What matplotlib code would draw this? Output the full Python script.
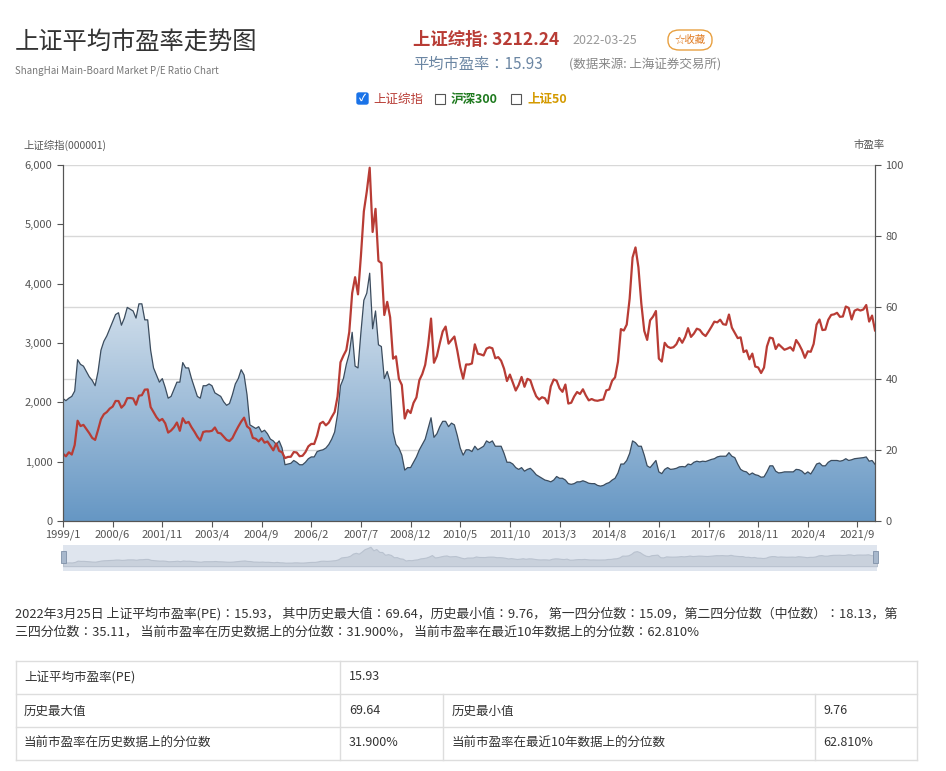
import numpy as np
import matplotlib.pyplot as plt
from matplotlib.patches import Rectangle, FancyBboxPatch

plt.rcParams["font.family"] = ["Noto Sans CJK JP", "DejaVu Sans"]

# monthly closes of the SSE composite index, 1999/1 .. 2022/3
index_close = [
    1134, 1090, 1158, 1120, 1280, 1690, 1600, 1620, 1550, 1480, 1400, 1367,
    1535, 1715, 1800, 1836, 1894, 1928, 2023, 2022, 1910, 1961, 2070, 2073,
    2065, 1960, 2112, 2120, 2214, 2218, 1920, 1834, 1750, 1690, 1720, 1646,
    1490, 1525, 1580, 1660, 1520, 1732, 1650, 1670, 1580, 1505, 1420, 1357,
    1500, 1512, 1510, 1520, 1576, 1487, 1477, 1422, 1367, 1348, 1397, 1497,
    1590, 1675, 1742, 1595, 1555, 1400, 1386, 1342, 1396, 1320, 1340, 1266,
    1191, 1306, 1181, 1159, 1060, 1080, 1083, 1162, 1155, 1092, 1099, 1161,
    1258, 1299, 1298, 1440, 1641, 1672, 1612, 1658, 1752, 1837, 2099, 2675,
    2786, 2881, 3183, 3841, 4109, 3820, 4471, 5218, 5552, 5954, 4871, 5261,
    4383, 4348, 3472, 3693, 3433, 2736, 2775, 2397, 2293, 1728, 1871, 1820,
    1990, 2082, 2373, 2477, 2632, 2959, 3412, 2667, 2779, 2996, 3195, 3277,
    2989, 3051, 3109, 2870, 2592, 2398, 2638, 2638, 2655, 2978, 2820, 2808,
    2790, 2905, 2928, 2911, 2743, 2762, 2701, 2567, 2359, 2468, 2333, 2199,
    2292, 2428, 2262, 2396, 2372, 2225, 2103, 2047, 2086, 2068, 1980, 2269,
    2385, 2365, 2236, 2177, 2300, 1979, 1993, 2098, 2174, 2141, 2220, 2116,
    2033, 2056, 2033, 2026, 2039, 2048, 2201, 2217, 2363, 2420, 2683, 3234,
    3210, 3310, 3748, 4441, 4611, 4277, 3663, 3205, 3052, 3382, 3445, 3539,
    2737, 2687, 3003, 2938, 2917, 2929, 2979, 3085, 3004, 3100, 3250, 3103,
    3159, 3241, 3222, 3155, 3117, 3192, 3273, 3360, 3348, 3393, 3317, 3307,
    3480, 3259, 3169, 3082, 3095, 2847, 2876, 2725, 2821, 2603, 2588, 2494,
    2585, 2941, 3091, 3078, 2899, 2979, 2933, 2886, 2905, 2929, 2871, 3050,
    2977, 2880, 2750, 2860, 2852, 2985, 3310, 3396, 3218, 3225, 3392, 3473,
    3483, 3509, 3441, 3447, 3615, 3591, 3397, 3544, 3568, 3547, 3564, 3640,
    3361, 3462, 3212,
]

# average P/E ratio of the Shanghai main board
pe_ratio = [
    34.4, 33.8, 34.5, 35.0, 36.5, 45.3, 44.0, 43.5, 42.0, 40.5, 39.5, 38.0,
    42.0, 48.0, 50.5, 52.0, 54.0, 56.0, 58.0, 58.5, 55.0, 57.0, 60.0, 59.5,
    59.0, 57.0, 61.0, 61.0, 56.5, 56.5, 48.0, 43.0, 41.0, 39.0, 40.0, 37.5,
    34.5, 35.0, 37.0, 39.0, 39.0, 44.5, 43.0, 43.0, 40.0, 37.5, 35.0, 34.5,
    38.0, 38.0, 38.5, 38.0, 36.0, 35.5, 35.0, 33.5, 32.5, 33.0, 35.5, 38.5,
    40.0, 42.5, 41.0, 35.5, 27.0, 26.5, 26.0, 26.5, 25.0, 25.5, 24.5, 23.0,
    22.5, 21.5, 22.5, 20.5, 15.8, 16.0, 16.2, 17.0, 16.5, 15.8, 15.8, 16.5,
    17.5, 18.0, 18.0, 19.5, 19.8, 20.0, 20.5, 21.5, 23.0, 25.0, 30.0, 38.0,
    40.0, 44.0, 47.0, 53.0, 43.5, 43.0, 53.0, 62.0, 64.0, 69.6, 54.0, 59.0,
    49.5, 49.0, 40.0, 42.0, 39.0, 25.0, 21.5, 20.5, 18.5, 14.3, 15.0, 15.0,
    16.5, 18.0, 20.0, 21.5, 23.0, 26.0, 29.0, 23.5, 24.5, 26.5, 28.0, 28.0,
    26.5, 27.5, 27.0, 24.0, 20.5, 18.5, 20.0, 20.0, 19.5, 21.0, 20.0, 20.5,
    21.0, 22.5, 22.0, 22.5, 21.0, 21.0, 21.0, 19.0, 16.5, 16.5, 16.0, 15.0,
    14.5, 15.0, 14.0, 14.5, 14.8, 14.0, 13.0, 12.5, 12.0, 11.5, 11.3, 11.0,
    11.5, 12.5, 12.0, 12.0, 11.5, 10.5, 10.3, 10.5, 11.0, 11.0, 11.3, 11.0,
    10.6, 10.5, 10.5, 10.0, 9.8, 10.0, 10.5, 10.8, 11.5, 12.0, 13.5, 16.0,
    16.0, 17.0, 19.0, 22.5, 22.0, 21.0, 21.0, 18.5, 15.5, 15.0, 16.0, 17.0,
    13.8, 13.3, 14.5, 15.0, 14.5, 14.6, 14.8, 15.2, 15.3, 15.2, 16.0, 15.8,
    16.5, 16.8, 16.6, 16.8, 16.7, 17.0, 17.3, 17.5, 18.0, 18.2, 18.2, 18.2,
    19.2, 18.2, 17.8, 16.0, 14.5, 14.0, 13.8, 13.0, 13.5, 13.0, 12.8, 12.3,
    12.4, 13.8, 15.5, 15.5, 14.0, 13.5, 13.6, 13.8, 13.8, 13.8, 13.8, 14.5,
    14.4, 14.0, 13.2, 13.8, 13.2, 14.5, 16.0, 16.3, 15.5, 15.5, 16.5, 17.0,
    17.0, 17.0, 16.8, 17.0, 17.5, 17.0, 17.2, 17.5, 17.6, 17.7, 17.8, 18.0,
    16.8, 17.0, 15.93,
]

months = [f"{1999 + i // 12}/{i % 12 + 1}" for i in range(len(index_close))]
tick_step = 17

W, H = 946, 771
fig = plt.figure(figsize=(W / 100, H / 100), dpi=100)


def ftxt(x, y, s, **kw):
    kw.setdefault("va", "center")
    fig.text(x / W, 1 - y / H, s, **kw)


def fline(x0, x1, y0, y1, c="#dddddd"):
    fig.add_artist(plt.Line2D([x0 / W, x1 / W], [1 - y0 / H, 1 - y1 / H], color=c, lw=1))


# header
ftxt(15, 42, "上证平均市盈率走势图", fontsize=17.5, color="#333333")
ftxt(15, 71, "ShangHai Main-Board Market P/E Ratio Chart", fontsize=7, color="#777777")
ftxt(413, 40, "上证综指: 3212.24", fontsize=12.5, color="#b83c35", fontweight="bold")
ftxt(572, 40, "2022-03-25", fontsize=9, color="#999999")
fig.add_artist(FancyBboxPatch((668 / W, 1 - 50 / H), 44 / W, 20 / H,
                              boxstyle="round,pad=0,rounding_size=0.012",
                              transform=fig.transFigure, fc="white", ec="#e8a040", lw=1))
ftxt(690, 40, "☆收藏", fontsize=7.5, color="#e07a20", ha="center")
ftxt(413, 64, "平均市盈率：15.93", fontsize=11, color="#6b86a3")
ftxt(569, 65, "(数据来源: 上海证券交易所)", fontsize=9, color="#888888")

# series toggles
fig.add_artist(FancyBboxPatch((357 / W, 1 - 104 / H), 11 / W, 11 / H,
                              boxstyle="round,pad=0,rounding_size=0.002",
                              transform=fig.transFigure, fc="#1a73e8", ec="#1a73e8"))
ftxt(362.5, 98, "✓", fontsize=7, color="white", ha="center", fontweight="bold")
ftxt(373, 99, "上证综指", fontsize=9, color="#b83c35")
for bx in (435, 511):
    fig.add_artist(Rectangle((bx / W, 1 - 104 / H), 10 / W, 10 / H,
                             transform=fig.transFigure, fc="white", ec="#555555", lw=0.8))
ftxt(451, 99, "沪深300", fontsize=9, color="#1f7a1f", fontweight="bold")
ftxt(527, 99, "上证50", fontsize=9, color="#d49a00", fontweight="bold")

# main chart
x = np.arange(len(index_close))
ax = fig.add_axes([63 / W, 1 - 521 / H, 812 / W, 356 / H])
ax2 = ax.twinx()
ax.set_zorder(ax2.get_zorder() + 1)
ax.patch.set_visible(False)

ax2.set_axisbelow(True)
ax2.set_ylim(0, 100)
ax2.set_yticks([0, 20, 40, 60, 80, 100])
ax2.grid(axis="y", color="#d8d8d8", lw=1)
poly = ax2.fill_between(x, pe_ratio, 0, color="none")
grad = np.linspace(1, 0, 256).reshape(-1, 1)
top_c = np.array([0xe4, 0xeb, 0xf2]) / 255
bot_c = np.array([0x66, 0x97, 0xc4]) / 255
img = top_c * grad[..., None] + bot_c * (1 - grad[..., None])
im = ax2.imshow(img, extent=[0, len(x) - 1, 0, 72], aspect="auto", origin="upper", zorder=1)
im.set_clip_path(poly.get_paths()[0], transform=ax2.transData)
ax2.plot(x, pe_ratio, color="#3b4c5e", lw=0.9, zorder=2)

ax.plot(x, index_close, color="#b83c35", lw=1.6)
ax.set_ylim(0, 6000)
ax.set_yticks(range(0, 6001, 1000))
ax.yaxis.set_major_formatter(plt.FuncFormatter(lambda v, p: f"{int(v):,}"))
ax.set_xlim(0, len(x) - 1)
ax.set_xticks(x[::tick_step])
ax.set_xticklabels(months[::tick_step])

for a in (ax, ax2):
    a.tick_params(labelsize=8, colors="#555555", length=4, width=0.8)
    a.spines["top"].set_visible(False)
    for s in ("left", "right", "bottom"):
        a.spines[s].set_color("#555555")
ax.tick_params(axis="x", labelsize=8, pad=2)
ftxt(23, 145, "上证综指(000001)", fontsize=7.5, color="#555555")
ftxt(853, 145, "市盈率", fontsize=7.5, color="#555555")

# zoom slider
sl = fig.add_axes([63 / W, 1 - 571 / H, 814 / W, 26 / H])
sl.set_facecolor("#dfe5ee")
sl.fill_between(x, index_close, 0, color="#c9d1dc", lw=0.8, edgecolor="#b9c2cf")
sl.set_xlim(0, len(x) - 1)
sl.set_ylim(-1500, 6500)
sl.set_xticks([])
sl.set_yticks([])
for s in sl.spines.values():
    s.set_visible(False)
for hx in (61, 873):
    fig.add_artist(Rectangle((hx / W, 1 - 563 / H), 5 / W, 12 / H,
                             transform=fig.transFigure, fc="#a8b8cc", ec="#8091a8", lw=0.6))

# summary text
ftxt(15, 614, "2022年3月25日 上证平均市盈率(PE)：15.93， 其中历史最大值：69.64，历史最小值：9.76， 第一四分位数：15.09，第二四分位数（中位数）：18.13，第",
     fontsize=9.3, color="#333333")
ftxt(15, 632, "三四分位数：35.11， 当前市盈率在历史数据上的分位数：31.900%， 当前市盈率在最近10年数据上的分位数：62.810%",
     fontsize=9.3, color="#333333")

# table
rows_y = [661, 694, 727, 760]
for ry in rows_y:
    fline(16, 917, ry, ry)
fline(16, 16, 661, 760)
fline(917, 917, 661, 760)
fline(340, 340, 661, 760)
fline(443, 443, 694, 760)
fline(815, 815, 694, 760)
tfs = 9
ftxt(24, 677, "上证平均市盈率(PE)", fontsize=tfs, color="#333333")
ftxt(349, 677, "15.93", fontsize=tfs, color="#333333")
ftxt(24, 711, "历史最大值", fontsize=tfs, color="#333333")
ftxt(349, 711, "69.64", fontsize=tfs, color="#333333")
ftxt(452, 711, "历史最小值", fontsize=tfs, color="#333333")
ftxt(823, 711, "9.76", fontsize=tfs, color="#333333")
ftxt(24, 743, "当前市盈率在历史数据上的分位数", fontsize=tfs, color="#333333")
ftxt(349, 743, "31.900%", fontsize=tfs, color="#333333")
ftxt(452, 743, "当前市盈率在最近10年数据上的分位数", fontsize=tfs, color="#333333")
ftxt(823, 743, "62.810%", fontsize=tfs, color="#333333")

fig.savefig("out.png", dpi=100)
